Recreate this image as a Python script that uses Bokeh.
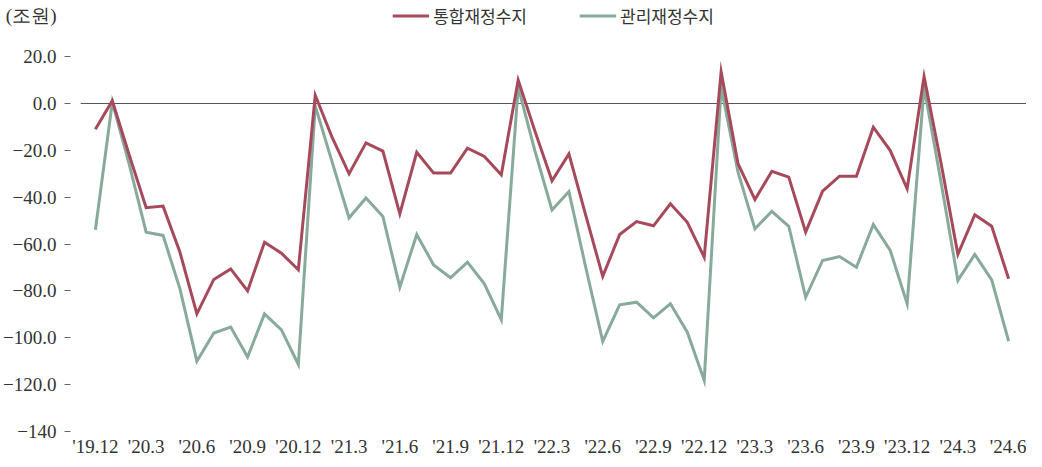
from bokeh.plotting import figure
from bokeh.models import Range1d, FixedTicker, Span, Legend, LegendItem
from bokeh.embed import file_html
from bokeh.resources import INLINE

# ---------------- data ----------------
months = ["'19.12"] + [f"'{yy}.{m}" for yy in range(20, 25) for m in range(1, 13)][:54]
tick_idx = list(range(0, 55, 3))
tick_labels = [months[i] for i in tick_idx]

integrated = [  # 통합재정수지
    -11.0, 1.2, -22.0, -44.5, -43.8, -63.5, -89.8, -75.1, -70.6, -80.0, -59.2, -63.9, -71.0,
    3.5, -14.5, -30.0, -16.8, -20.3, -47.1, -20.8, -29.7, -29.7, -19.1, -22.6, -30.4,
    10.0, -12.0, -33.0, -21.5, -47.9, -73.8, -55.9, -50.4, -52.2, -42.8, -50.7, -65.6,
    13.5, -25.7, -41.0, -28.9, -31.4, -54.9, -37.4, -31.0, -31.0, -10.1, -20.1, -36.4,
    11.5, -25.3, -64.4, -47.5, -52.4, -74.8,
]
managed = [  # 관리재정수지
    -53.9, 0.6, -26.0, -54.9, -56.3, -79.1, -110.0, -98.0, -95.4, -108.2, -89.8, -96.6, -111.4,
    -1.0, -25.0, -48.8, -40.3, -48.2, -78.4, -55.9, -68.9, -74.4, -67.7, -77.0, -92.3,
    7.0, -20.5, -45.5, -37.6, -70.1, -101.5, -85.9, -84.8, -91.5, -85.5, -97.6, -118.2,
    7.0, -29.3, -53.5, -46.0, -52.4, -82.7, -67.0, -65.3, -69.9, -51.6, -62.7, -85.5,
    7.0, -33.4, -75.5, -64.4, -75.3, -101.4,
]
x = list(range(len(months)))

y_ticks = [20, 0, -20, -40, -60, -80, -100, -120, -140]
y_tick_labels = ["20.0", "0.0", "\u221220.0", "\u221240.0", "\u221260.0", "\u221280.0",
                 "\u2212100.0", "\u2212120.0", "\u2212140"]

series_names = ["통합재정수지", "관리재정수지"]
colors = ["#A64A5B", "#87AA9B"]
unit_label = "(조원)"

# ---------------- figure ----------------
W, H = 1026, 459
left_b, bottom_b = 74, 28
frame_w = W - left_b
frame_h = H - bottom_b
px_per = (934 - 15) / 54
x0 = -15 / px_per
x1 = x0 + frame_w / px_per
ppu = (frame_h - 103) / 140
y_top = 103 / ppu
unit_pos = (103 - 15) / ppu   # unit caption sits at the top, level with the legend

p = figure(width=W, height=H, output_backend="svg", toolbar_location=None,
           x_range=Range1d(x0, x1), y_range=Range1d(-140, y_top),
           min_border_left=left_b, min_border_right=0, min_border_top=0,
           min_border_bottom=bottom_b, outline_line_color=None,
           background_fill_color="white", border_fill_color="white")
p.grid.visible = False

num_font = "Liberation Sans Narrow"
kr_font = "Noto Sans CJK KR"
txt_color = "#333333"

# y axis: labels on major ticks (incl. unit caption), dashes drawn as minor ticks
ya = p.yaxis[0]
ya.ticker = FixedTicker(ticks=y_ticks + [unit_pos], minor_ticks=y_ticks)
overrides = {t: l for t, l in zip(y_ticks, y_tick_labels)}
overrides[unit_pos] = unit_label
ya.major_label_overrides = overrides
ya.axis_line_color = None
ya.major_tick_line_color = None
ya.major_tick_in = 0
ya.major_tick_out = 16
ya.minor_tick_in = -10
ya.minor_tick_out = 16
ya.minor_tick_line_color = "#666666"
ya.minor_tick_line_width = 1
ya.major_label_standoff = 8
ya.major_label_text_font = num_font
ya.major_label_text_font_size = "19px"
ya.major_label_text_color = txt_color

# x axis
xa = p.xaxis[0]
xa.ticker = FixedTicker(ticks=tick_idx)
xa.major_label_overrides = {i: l for i, l in zip(tick_idx, tick_labels)}
xa.axis_line_color = None
xa.major_tick_line_color = None
xa.minor_tick_line_color = None
xa.major_tick_out = 0
xa.major_tick_in = 0
xa.major_label_standoff = 4
xa.major_label_text_font = num_font
xa.major_label_text_font_size = "19px"
xa.major_label_text_color = txt_color

# zero line
p.add_layout(Span(location=0, dimension="width", line_color="#555555",
                  line_width=1, level="underlay"))

r1 = p.line(x, integrated, line_color=colors[0], line_width=3, line_join="miter")
r2 = p.line(x, managed, line_color=colors[1], line_width=3, line_join="miter")
p.renderers = [r2, r1]

legend = Legend(items=[LegendItem(label=series_names[0], renderers=[r1]),
                       LegendItem(label=series_names[1], renderers=[r2])],
                orientation="horizontal", location="top_center",
                margin=3, padding=0, spacing=52,
                glyph_width=37, glyph_height=17, label_height=17,
                label_standoff=4,
                label_text_font=kr_font,
                label_text_font_size="17px", label_text_color=txt_color,
                background_fill_alpha=0, border_line_color=None)
p.add_layout(legend)

open("out.html", "w").write(file_html(p, INLINE))
